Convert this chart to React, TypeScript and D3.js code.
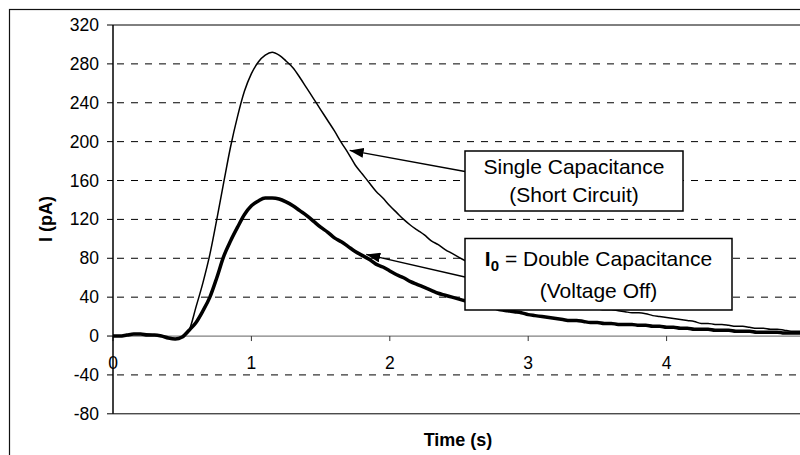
import React from "react";
import * as d3 from "d3";

const timeStep = 0.05;

const singleCap = [
  0, 0, 1, 2, 2, 2, 1, 0, -2, -3,
  -1, 6, 30, 55, 84, 120, 158, 195, 226, 252,
  270, 282, 289, 292, 289, 283, 276, 266, 255, 244,
  233, 222, 211, 199, 188, 176, 167, 158, 149, 142,
  134, 127, 120, 114, 109, 104, 98, 94, 89, 85,
  81, 77, 73, 69, 65, 61, 58, 55, 52, 49,
  46, 44, 41, 39, 37, 35, 33, 32, 30, 29,
  28, 27, 27, 26, 25, 24, 24, 23, 21, 20,
  19, 18, 17, 16, 15, 13, 13, 12, 12, 11,
  10, 10, 9, 8, 8, 7, 7, 6, 5, 5,
  4,
];

const doubleCap = [
  0, 0, 1, 2, 2, 1, 1, 0, -2, -3,
  -1, 6, 14, 26, 40, 60, 82, 98, 112, 125,
  134, 139, 142, 142, 141, 138, 134, 129, 124, 118,
  112, 107, 101, 97, 92, 87, 83, 79, 74, 71,
  67, 63, 60, 56, 53, 50, 47, 44, 42, 40,
  38, 36, 34, 32, 30, 29, 27, 26, 25, 24,
  22, 21, 20, 19, 18, 17, 16, 16, 15, 14,
  14, 13, 13, 12, 12, 12, 11, 11, 10, 10,
  9, 9, 8, 8, 7, 7, 7, 6, 6, 6,
  5, 5, 5, 4, 4, 4, 4, 3, 3, 3,
  3,
];

const yTicks = [320, 280, 240, 200, 160, 120, 80, 40, 0, -40, -80];
const xTicks = [0, 1, 2, 3, 4, 5];

const annotations = [
  { lines: ["Single Capacitance", "(Short Circuit)"], tipT: 1.71, tipV: 191 },
  { lines: ["= Double Capacitance", "(Voltage Off)"], tipT: 1.83, tipV: 84 },
];

const FONT = "'Liberation Sans', Arial, sans-serif";

export default function App() {
  const x = d3.scaleLinear().domain([0, 5]).range([113, 805]);
  const y = d3.scaleLinear().domain([-80, 320]).range([413.8, 25]);

  const line = d3
    .line<number>()
    .x((_, i) => x(i * timeStep))
    .y((d) => y(d))
    .curve(d3.curveMonotoneX);

  const box1 = { x: 465, y: 151, w: 218, h: 60 };
  const box2 = { x: 465, y: 238.5, w: 267, h: 71.5 };

  return (
    <svg
      width={800}
      height={455}
      style={{ position: "absolute", left: 0, top: 0, background: "#fff" }}
      fontFamily={FONT}
    >
      <defs>
        <marker
          id="arr"
          viewBox="0 0 14 10"
          refX={14}
          refY={5}
          markerWidth={14}
          markerHeight={10}
          markerUnits="userSpaceOnUse"
          orient="auto"
        >
          <path d="M0,0 L14,5 L0,10 Z" fill="#000" />
        </marker>
        <clipPath id="plotclip">
          <rect x={113} y={20} width={700} height={400} />
        </clipPath>
      </defs>
      <rect x={9.5} y={9.5} width={820} height={470} fill="#fff" stroke="#111" strokeWidth={1.2} />

      {/* gridlines */}
      {yTicks
        .filter((t) => t !== 0 && t !== 320 && t !== -80)
        .map((t) => (
          <line
            key={"g" + t}
            x1={113}
            x2={805}
            y1={y(t)}
            y2={y(t)}
            stroke="#000"
            strokeWidth={1}
            strokeDasharray="7,7"
            strokeDashoffset={-4}
          />
        ))}
      <line x1={113} x2={805} y1={y(320)} y2={y(320)} stroke="#000" strokeWidth={1} />
      <line x1={113} x2={805} y1={y(-80)} y2={y(-80)} stroke="#000" strokeWidth={1} />

      {/* x axis at zero */}
      <line x1={113} x2={805} y1={y(0)} y2={y(0)} stroke="#808080" strokeWidth={1.2} />
      {xTicks.map((t) => (
        <g key={"x" + t}>
          <line x1={x(t)} x2={x(t)} y1={y(0)} y2={y(0) + 5} stroke="#333" strokeWidth={1} />
          <text x={x(t)} y={y(0) + 33} textAnchor="middle" fontSize={17.5} fill="#000">
            {t}
          </text>
        </g>
      ))}

      {/* y axis */}
      <line x1={113} x2={113} y1={y(320)} y2={y(-80)} stroke="#000" strokeWidth={1.5} />
      {yTicks.map((t) => (
        <g key={"y" + t}>
          <line x1={107} x2={113} y1={y(t)} y2={y(t)} stroke="#000" strokeWidth={1} />
          <text x={99} y={y(t) + 6} textAnchor="end" fontSize={17.5} fill="#000">
            {t}
          </text>
        </g>
      ))}

      {/* curves */}
      <g clipPath="url(#plotclip)">
        <path d={line(singleCap) || ""} fill="none" stroke="#000" strokeWidth={1.5} strokeLinejoin="round" />
        <path d={line(doubleCap) || ""} fill="none" stroke="#000" strokeWidth={3.5} strokeLinejoin="round" />
      </g>

      {/* axis titles */}
      <text x={458} y={446} textAnchor="middle" fontSize={18} fontWeight="bold" fill="#000">
        Time (s)
      </text>
      <text
        transform="translate(52,219) rotate(-90)"
        textAnchor="middle"
        fontSize={18}
        fontWeight="bold"
        fill="#000"
      >
        I (pA)
      </text>

      {/* annotations */}
      <line
        x1={box1.x}
        y1={171.5}
        x2={x(annotations[0].tipT)}
        y2={y(annotations[0].tipV)}
        stroke="#000"
        strokeWidth={1.3}
        markerEnd="url(#arr)"
      />
      <line
        x1={box2.x}
        y1={277}
        x2={x(annotations[1].tipT)}
        y2={y(annotations[1].tipV)}
        stroke="#000"
        strokeWidth={1.3}
        markerEnd="url(#arr)"
      />
      <rect x={box1.x} y={box1.y} width={box1.w} height={box1.h} fill="#fff" stroke="#000" strokeWidth={1.5} />
      <text x={box1.x + box1.w / 2} y={box1.y + 23} textAnchor="middle" fontSize={21} fill="#000">
        {annotations[0].lines[0]}
      </text>
      <text x={box1.x + box1.w / 2} y={box1.y + 51} textAnchor="middle" fontSize={21} fill="#000">
        {annotations[0].lines[1]}
      </text>
      <rect x={box2.x} y={box2.y} width={box2.w} height={box2.h} fill="#fff" stroke="#000" strokeWidth={1.5} />
      <text x={box2.x + box2.w / 2} y={box2.y + 27} textAnchor="middle" fontSize={21} fill="#000">
        <tspan fontWeight="bold">I</tspan>
        <tspan fontWeight="bold" fontSize={15} dy={5}>0</tspan>
        <tspan dy={-5}> {annotations[1].lines[0]}</tspan>
      </text>
      <text x={box2.x + box2.w / 2} y={box2.y + 59} textAnchor="middle" fontSize={21} fill="#000">
        {annotations[1].lines[1]}
      </text>
    </svg>
  );
}
